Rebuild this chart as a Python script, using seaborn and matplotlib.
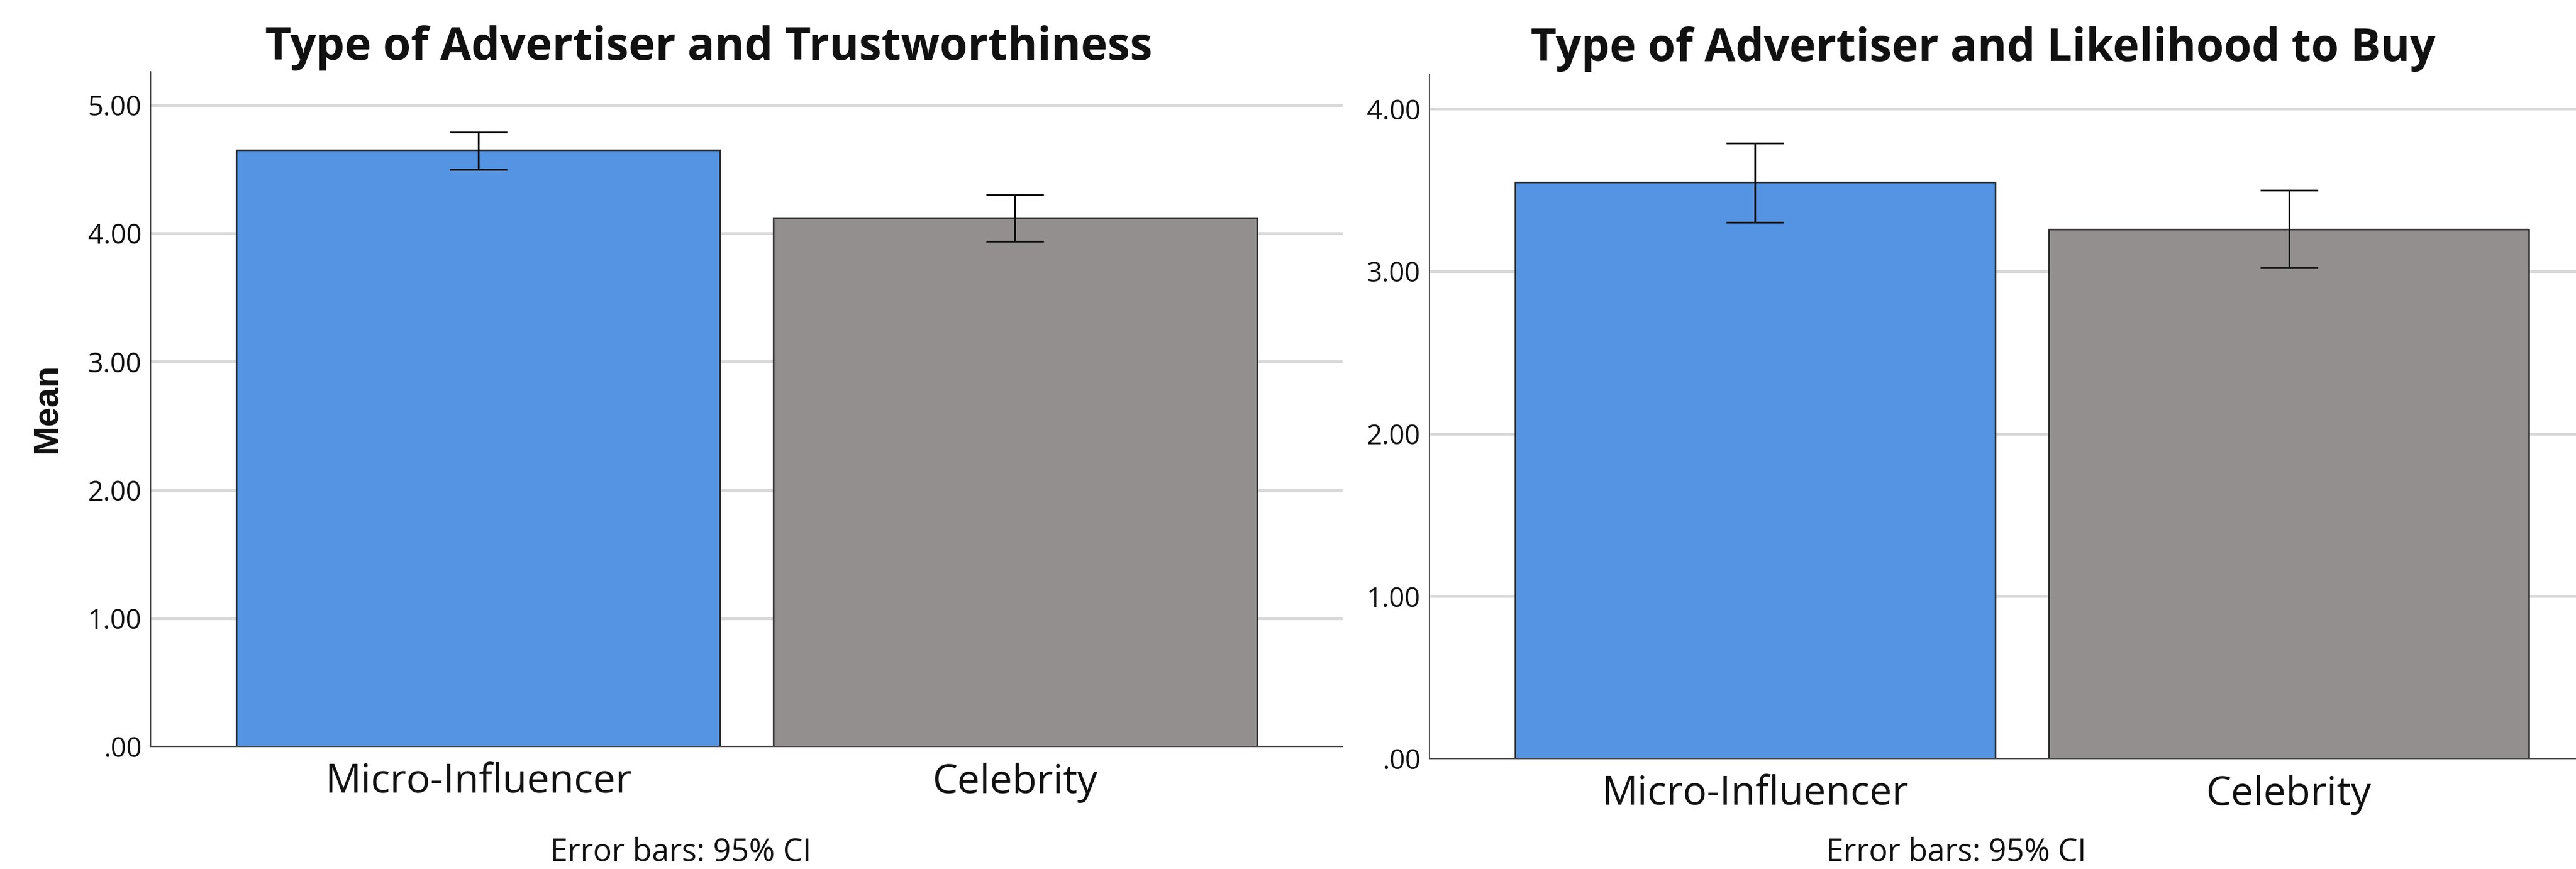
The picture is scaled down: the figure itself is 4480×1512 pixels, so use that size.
import numpy as np
import pandas as pd
import matplotlib
matplotlib.use("Agg")
import matplotlib.pyplot as plt
import seaborn as sns
from matplotlib.ticker import FixedLocator, FuncFormatter

# Group means with their 95% confidence limits
categories = ["Micro-Influencer", "Celebrity"]
trust_mean = [4.65, 4.12]
trust_ci_low = [4.50, 3.94]
trust_ci_high = [4.79, 4.30]
buy_mean = [3.55, 3.26]
buy_ci_low = [3.30, 3.02]
buy_ci_high = [3.79, 3.50]
trust_ticks = [0, 1, 2, 3, 4, 5]
buy_ticks = [0, 1, 2, 3, 4]
bar_colors = ["#5594E2", "#948F8F"]

sns.set_style("white")
plt.rcParams["font.family"] = ["Open Sans", "DejaVu Sans"]
plt.rcParams["text.color"] = "#111111"

W, H = 4480, 1512
fig = plt.figure(figsize=(W / 100, H / 100), dpi=100)
fig.patch.set_facecolor("white")

ax1 = fig.add_axes([262 / W, (H - 1299) / H, 2073 / W, 1174 / H])
ax2 = fig.add_axes([2486 / W, (H - 1320) / H, 2061 / W, 1190 / H])


def tick_text(v, _pos):
    s = f"{v:.2f}"
    return s[1:] if s.startswith("0") else s


def draw_panel(ax, means, lo, hi, ticks, ymax):
    df = pd.DataFrame({"Advertiser": categories, "Mean": means})
    sns.barplot(data=df, x="Advertiser", y="Mean", hue="Advertiser",
                order=categories, hue_order=categories, palette=bar_colors,
                saturation=1, width=0.9, edgecolor="#262626", linewidth=1.9,
                errorbar=None, legend=False, ax=ax)
    m = np.asarray(means)
    pos = np.arange(len(categories))
    ax.errorbar(pos, m, yerr=[m - np.asarray(lo), np.asarray(hi) - m],
                fmt="none", ecolor="#111111", elinewidth=2.2,
                capsize=36, capthick=2.2, zorder=3)
    ax.set_xlim(-0.61, 1.61)
    ax.set_ylim(0, ymax)
    ax.yaxis.set_major_locator(FixedLocator(ticks))
    ax.yaxis.set_major_formatter(FuncFormatter(tick_text))
    ax.grid(axis="y", color="#d9d9d9", linewidth=3.6)
    ax.grid(axis="x", visible=False)
    ax.set_axisbelow(True)
    sns.despine(ax=ax)
    for side in ("left", "bottom"):
        ax.spines[side].set_color("#555555")
        ax.spines[side].set_linewidth(1.5)
    ax.tick_params(axis="y", length=0, pad=11, labelsize=34, labelcolor="#111111")
    ax.tick_params(axis="x", length=0, pad=20, labelsize=50, labelcolor="#111111")
    ax.set_xlabel("")
    ax.set_ylabel("")


draw_panel(ax1, trust_mean, trust_ci_low, trust_ci_high, trust_ticks, 5.26)
draw_panel(ax2, buy_mean, buy_ci_low, buy_ci_high, buy_ticks, 4.21)

t1 = fig.text(1233 / W, 1 - 104 / H, "Type of Advertiser and Trustworthiness",
              ha="center", va="baseline", fontsize=54, fontweight="bold")
t2 = fig.text(3449 / W, 1 - 106 / H, "Type of Advertiser and Likelihood to Buy",
              ha="center", va="baseline", fontsize=54, fontweight="bold")
fig.text(82 / W, 1 - 710 / H, "Mean", rotation=90, ha="center", va="center",
         fontsize=44, fontweight="bold", family=["Liberation Sans", "DejaVu Sans"])
e1 = fig.text(1184 / W, 2 / H, "Error bars: 95% CI",
              ha="center", va="bottom", fontsize=40)
e2 = fig.text(3402 / W, 1 / H, "Error bars: 95% CI",
              ha="center", va="bottom", fontsize=40)

# Scale the titles and notes to their intended widths
renderer = fig.canvas.get_renderer()
for txt, target in ((t1, 1543), (t2, 1574), (e1, 454), (e2, 452)):
    w = txt.get_window_extent(renderer).width
    txt.set_fontsize(txt.get_fontsize() * target / w)

fig.savefig("out.png", dpi=100, facecolor="white")
